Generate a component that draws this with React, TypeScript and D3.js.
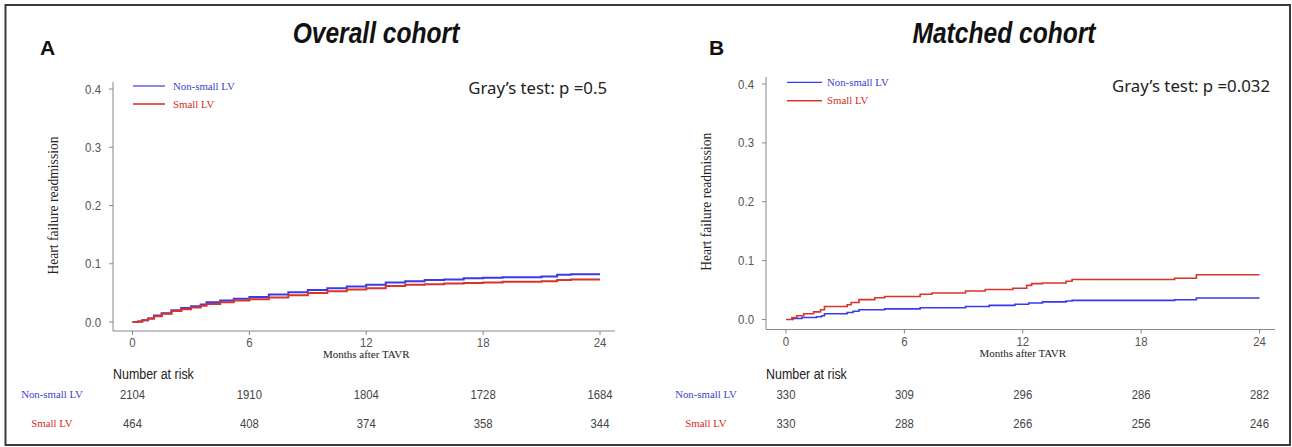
import React from "react";
import * as d3 from "d3";

// Cumulative incidence of heart-failure readmission (months, probability)
const overallNonSmall: [number, number][] = [
  [0, 0], [0.3, 0.001], [0.5, 0.003], [0.8, 0.006], [1.1, 0.011], [1.5, 0.015],
  [2.0, 0.02], [2.5, 0.024], [3.0, 0.027], [3.5, 0.03], [3.8, 0.034], [4.5, 0.037],
  [5.2, 0.04], [6, 0.043], [7, 0.047], [8, 0.051], [9, 0.055], [10, 0.058],
  [11, 0.061], [12, 0.064], [13, 0.068], [14, 0.07], [15, 0.072], [16, 0.073],
  [17, 0.075], [18, 0.076], [19, 0.077], [21, 0.078], [21.8, 0.081], [22.5, 0.082],
  [24, 0.082],
];
const overallSmall: [number, number][] = [
  [0, 0], [0.3, 0.001], [0.5, 0.003], [0.8, 0.006], [1.1, 0.01], [1.5, 0.014],
  [2.0, 0.019], [2.5, 0.022], [3.0, 0.025], [3.5, 0.028], [3.8, 0.031], [4.5, 0.034],
  [5.2, 0.037], [6, 0.039], [7, 0.042], [8, 0.046], [9, 0.05], [10, 0.053],
  [11, 0.056], [12, 0.058], [13, 0.062], [14, 0.064], [15, 0.065], [16, 0.066],
  [17, 0.067], [18, 0.068], [19, 0.069], [21, 0.07], [21.8, 0.072], [22.5, 0.073],
  [24, 0.073],
];
const matchedNonSmall: [number, number][] = [
  [0.3, 0], [0.35, 0.0017], [0.8, 0.0034], [1.55, 0.0046], [1.8, 0.0063], [1.95, 0.0097],
  [3.1, 0.012], [3.4, 0.014], [3.7, 0.0166], [5.0, 0.018], [6.8, 0.02], [9.1, 0.022],
  [10.3, 0.024], [11.6, 0.026], [12.3, 0.028], [13.0, 0.03], [14.2, 0.0315],
  [14.5, 0.0325], [19.7, 0.0335], [20.8, 0.0366], [24, 0.0366],
];
const matchedSmall: [number, number][] = [
  [0, 0], [0.3, 0.0035], [0.55, 0.0063], [0.9, 0.0097], [1.4, 0.013], [1.75, 0.0166],
  [1.95, 0.022], [3.1, 0.025], [3.3, 0.029], [3.7, 0.0337], [4.5, 0.037], [5.0, 0.039],
  [6.8, 0.043], [7.4, 0.045], [9.1, 0.0485], [10.1, 0.051], [11.5, 0.053], [12.2, 0.058],
  [12.45, 0.061], [13.0, 0.062], [14.2, 0.065], [14.5, 0.068], [19.7, 0.07], [20.8, 0.076],
  [24, 0.076],
];

const monthTicks = [0, 6, 12, 18, 24];
const probTicks = [0, 0.1, 0.2, 0.3, 0.4];

const overallRiskNonSmall = [2104, 1910, 1804, 1728, 1684];
const overallRiskSmall = [464, 408, 374, 358, 344];
const matchedRiskNonSmall = [330, 309, 296, 286, 282];
const matchedRiskSmall = [330, 288, 266, 256, 246];

const groupNames = ["Non-small LV", "Small LV"];

const BLUE = "#3a3aec";
const RED = "#d8352a";
const BLUE_TXT = "#3d3dd0";
const RED_TXT = "#d42a22";
const SANS = "'Liberation Sans', Arial, sans-serif";
const SERIF = "'Liberation Serif', 'Times New Roman', serif";

// Horizontally condensed sans text (narrow-face look), anchored at (x, y).
function NText({
  x, y, sx = 0.84, size, anchor = "start", fill = "#444", weight, italic, children,
}: {
  x: number; y: number; sx?: number; size: number; anchor?: string; fill?: string;
  weight?: string; italic?: boolean; children: React.ReactNode;
}) {
  return (
    <text
      transform={`translate(${x},${y}) scale(${sx},1)`}
      textAnchor={anchor}
      fontFamily={SANS}
      fontSize={size}
      fontWeight={weight}
      fontStyle={italic ? "italic" : undefined}
      fill={fill}
    >
      {children}
    </text>
  );
}

type PanelProps = {
  letter: string;
  title: string;
  pText: string;
  nonSmall: [number, number][];
  small: [number, number][];
  riskNonSmall: number[];
  riskSmall: number[];
  g: {
    axisX: number; x0: number; x1: number; yTop: number; yBase: number;
    axisY: number; axisEnd: number; axisTop: number; titleX: number; letterX: number;
    pRight: number; pY: number; legX0: number; legX1: number; legTextX: number;
    legY: [number, number]; yTitleX: number; riskLabelX: number; lineW: number;
  };
};

function Panel({ letter, title, pText, nonSmall, small, riskNonSmall, riskSmall, g }: PanelProps) {
  const x = d3.scaleLinear().domain([0, 24]).range([g.x0, g.x1]);
  const y = d3.scaleLinear().domain([0, 0.4]).range([g.yBase, g.yTop]);
  const line = d3
    .line<[number, number]>()
    .x((d) => x(d[0]))
    .y((d) => y(d[1]))
    .curve(d3.curveStepAfter);

  return (
    <g>
      <text x={g.letterX} y={55} fontFamily={SANS} fontWeight="bold" fontSize={21} fill="#111">
        {letter}
      </text>
      <NText x={g.titleX} y={43} sx={0.82} size={30} anchor="middle" fill="#111" weight="bold" italic>
        {title}
      </NText>
      <text x={g.pRight} y={g.pY} textAnchor="end" fontFamily="'Noto Sans', sans-serif" fontSize={16.8} fill="#222">
        {pText}
      </text>

      {/* axes */}
      <line x1={g.axisX} x2={g.axisX} y1={g.axisTop} y2={g.axisY} stroke="#888" strokeWidth={1} />
      <line x1={g.axisX} x2={g.axisEnd} y1={g.axisY} y2={g.axisY} stroke="#888" strokeWidth={1} />
      {probTicks.map((t) => (
        <g key={"y" + t}>
          <line x1={g.axisX - 4} x2={g.axisX} y1={y(t)} y2={y(t)} stroke="#888" />
          <NText x={g.axisX - 12} y={y(t) + 4.5} sx={0.88} size={13} anchor="end" fill="#555">
            {d3.format(".1f")(t)}
          </NText>
        </g>
      ))}
      {monthTicks.map((t) => (
        <g key={"x" + t}>
          <line x1={x(t)} x2={x(t)} y1={g.axisY} y2={g.axisY + 4} stroke="#888" />
          <NText x={x(t)} y={g.axisY + 16} sx={0.88} size={13} anchor="middle" fill="#555">
            {t}
          </NText>
        </g>
      ))}
      <text x={x(12)} y={g.axisY + 27} textAnchor="middle" fontFamily={SERIF} fontSize={11} fill="#222">
        Months after TAVR
      </text>
      <text
        transform={`translate(${g.yTitleX},${(g.yBase + g.yTop) / 2}) rotate(-90)`}
        textAnchor="middle"
        dy="0.35em"
        fontFamily={SERIF}
        fontSize={13.6}
        fill="#222"
      >
        Heart failure readmission
      </text>

      {/* curves */}
      <path d={line(nonSmall) ?? ""} fill="none" stroke={BLUE} strokeWidth={g.lineW} />
      <path d={line(small) ?? ""} fill="none" stroke={RED} strokeWidth={g.lineW} />

      {/* legend */}
      {[BLUE, RED].map((c, i) => (
        <g key={c}>
          <line x1={g.legX0} x2={g.legX1} y1={g.legY[i]} y2={g.legY[i]} stroke={c} strokeWidth={i === 0 ? 1.2 : 1.6} />
          <text x={g.legTextX} y={g.legY[i] + 3.5} fontFamily={SERIF} fontSize={10.8} fill={i === 0 ? BLUE_TXT : RED_TXT}>
            {groupNames[i]}
          </text>
        </g>
      ))}

      {/* number at risk */}
      <NText x={g.axisX} y={378.5} sx={0.83} size={15} fill="#222">
        Number at risk
      </NText>
      {[riskNonSmall, riskSmall].map((row, r) => (
        <g key={"r" + r}>
          <text x={g.riskLabelX} y={r === 0 ? 398 : 427} textAnchor="middle" fontFamily={SERIF} fontSize={10.8} fill={r === 0 ? BLUE_TXT : RED_TXT}>
            {groupNames[r]}
          </text>
          {row.map((n, i) => (
            <NText key={i} x={x(monthTicks[i])} y={r === 0 ? 399 : 427.5} sx={0.84} size={13.5} anchor="middle" fill="#444">
              {n}
            </NText>
          ))}
        </g>
      ))}
    </g>
  );
}

export default function App() {
  return (
    <svg width={1292} height={447} style={{ display: "block", position: "absolute", left: 0, top: 0 }}>
      <rect x={0} y={0} width={1292} height={447} fill="#fff" />
      <rect x={5.5} y={5} width={1284.5} height={440} fill="none" stroke="#3a3a3a" strokeWidth={2} />
      <Panel
        letter="A"
        title="Overall cohort"
        pText="Gray’s test: p =0.5"
        nonSmall={overallNonSmall}
        small={overallSmall}
        riskNonSmall={overallRiskNonSmall}
        riskSmall={overallRiskSmall}
        g={{
          axisX: 113, x0: 132.5, x1: 600, yTop: 89, yBase: 322, axisY: 331, axisEnd: 615,
          axisTop: 82, titleX: 376, letterX: 40, pRight: 607, pY: 94, legX0: 133, legX1: 165,
          legTextX: 173, legY: [86, 104], yTitleX: 53, riskLabelX: 52, lineW: 2,
        }}
      />
      <Panel
        letter="B"
        title="Matched cohort"
        pText="Gray’s test: p =0.032"
        nonSmall={matchedNonSmall}
        small={matchedSmall}
        riskNonSmall={matchedRiskNonSmall}
        riskSmall={matchedRiskSmall}
        g={{
          axisX: 766, x0: 786, x1: 1259.5, yTop: 84, yBase: 319.5, axisY: 329.5, axisEnd: 1275,
          axisTop: 77, titleX: 1004, letterX: 709, pRight: 1270, pY: 92, legX0: 787, legX1: 822,
          legTextX: 827, legY: [82.3, 100.7], yTitleX: 706, riskLabelX: 706, lineW: 1.6,
        }}
      />
    </svg>
  );
}
